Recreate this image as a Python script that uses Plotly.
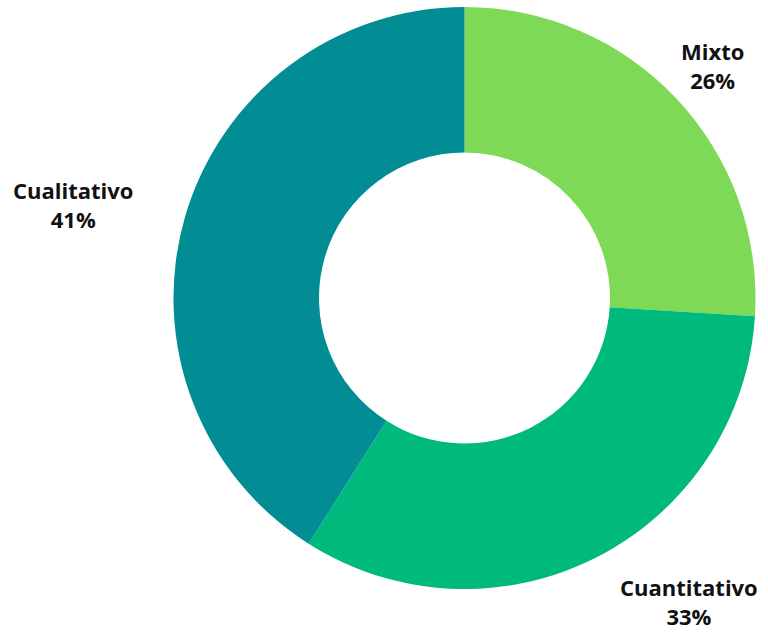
import plotly.graph_objects as go

categories = ["Mixto", "Cuantitativo", "Cualitativo"]
values = [26, 33, 41]
colors = ["#7ED957", "#00B97D", "#028C94"]
label_pos_px = {"Mixto": (712, 65), "Cuantitativo": (689, 601), "Cualitativo": (73, 205)}

W, H = 768, 632
cx, cy, R = 464.5, 298, 291

fig = go.Figure(go.Pie(
    labels=categories,
    values=values,
    hole=0.5,
    sort=False,
    direction="clockwise",
    rotation=0,
    marker=dict(colors=colors, line=dict(width=0)),
    textinfo="none",
    hoverinfo="none",
    showlegend=False,
    domain=dict(x=[(cx - R) / W, (cx + R) / W], y=[1 - (cy + R) / H, 1 - (cy - R) / H]),
))

for cat, val in zip(categories, values):
    px, py = label_pos_px[cat]
    fig.add_annotation(
        x=px / W, y=1 - py / H, xref="paper", yref="paper",
        text=f"<b>{cat}</b><br><b>{val}%</b>",
        showarrow=False, xanchor="center", yanchor="middle", align="center",
        font=dict(family="Open Sans", size=22, color="#111111"),
    )

fig.update_layout(
    width=W, height=H,
    margin=dict(l=0, r=0, t=0, b=0),
    paper_bgcolor="white", plot_bgcolor="white",
)

fig.write_html("out.html")
